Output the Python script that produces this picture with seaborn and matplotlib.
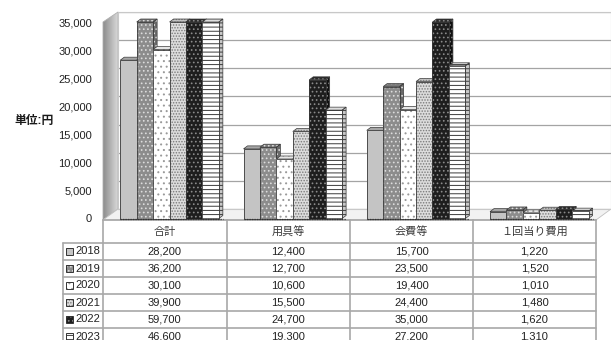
import numpy as np
import pandas as pd
import matplotlib
matplotlib.use("Agg")
import matplotlib.pyplot as plt
from matplotlib.patches import Polygon, Rectangle
from matplotlib.ticker import FuncFormatter
import seaborn as sns

# ---- data ----
categories = ["合計", "用具等", "会費等", "１回当り費用"]
years = ["2018", "2019", "2020", "2021", "2022", "2023"]
total = [28200, 36200, 30100, 39900, 59700, 46600]
equipment = [12400, 12700, 10600, 15500, 24700, 19300]
fees = [15700, 23500, 19400, 24400, 35000, 27200]
per_visit = [1220, 1520, 1010, 1480, 1620, 1310]
y_ticks = [0, 5000, 10000, 15000, 20000, 25000, 30000, 35000]
unit_label = "単位:円"

series = [total, equipment, fees, per_visit]
df = pd.DataFrame({
    "category": np.repeat(categories, len(years)),
    "year": years * len(categories),
    "value": np.concatenate(series),
})

# ---- per-year fill styles (face, side, top, hatch, hatch colour) ----
styles = {
    "2018": ("#c4c4c4", "#9c9c9c", "#a6a6a6", "", "#c4c4c4"),
    "2019": ("#8c8c8c", "#6a6a6a", "#7a7a7a", "....", "#dcdcdc"),
    "2020": ("#ffffff", "#d4d4d4", "#e6e6e6", "...", "#9a9a9a"),
    "2021": ("#dcdcdc", "#b4b4b4", "#c4c4c4", "......", "#7a7a7a"),
    "2022": ("#1e1e1e", "#101010", "#2a2a2a", "....", "#8a8a8a"),
    "2023": ("#ffffff", "#c8c8c8", "#dedede", "----", "#3a3a3a"),
}

sns.set_style("white")
plt.rcParams["font.family"] = ["Liberation Sans", "Noto Sans CJK JP"]
plt.rcParams["hatch.linewidth"] = 0.7

W, H = 611, 340
fig = plt.figure(figsize=(W / 100, H / 100), dpi=100)


def frac(x0, y0, x1, y1):
    """pixel box (top-left origin) -> figure fraction rect"""
    return [x0 / W, 1 - y1 / H, (x1 - x0) / W, (y1 - y0) / H]


# pixel-space canvas for walls, floor and the data table
canvas = fig.add_axes([0, 0, 1, 1], zorder=0)
canvas.set_xlim(0, W)
canvas.set_ylim(H, 0)
canvas.axis("off")

# back wall with gridlines
wall = fig.add_axes(frac(118, 12, 611, 209), zorder=1)
wall.set_ylim(0, y_ticks[-1])
wall.set_yticks(y_ticks)
wall.set_xticks([])
wall.tick_params(axis="y", length=0, labelleft=False)
wall.grid(axis="y", color="#a4a4a4", lw=0.9)
for s in wall.spines.values():
    s.set_color("#c8c8c8")
    s.set_linewidth(0.8)
wall.spines["top"].set_linestyle((0, (1, 1)))

# left side wall (gradient) and floor
side_poly = Polygon([(103, 22), (118, 12), (118, 209), (103, 220)], closed=True,
                    facecolor="none", edgecolor="#b0b0b0", lw=0.6)
canvas.add_patch(side_poly)
grad = np.linspace(0.55, 0.85, 64).reshape(1, -1)
im = canvas.imshow(grad, cmap="gray", vmin=0, vmax=1, extent=[103, 118, 220, 12],
                   aspect="auto", interpolation="bilinear")
im.set_clip_path(side_poly)
canvas.add_patch(Polygon([(103, 220), (118, 209), (611, 209), (596, 220)], closed=True,
                         facecolor="#f2f2f2", edgecolor="#c0c0c0", lw=0.6))

# main (front plane) axes with the bars
ax = fig.add_axes(frac(103, 22, 596, 218.5), zorder=2)
ax.patch.set_alpha(0)
sns.barplot(data=df, x="category", y="value", hue="year", order=categories,
            hue_order=years, palette=[styles[y][0] for y in years], saturation=1,
            width=0.8, errorbar=None, legend=False, ax=ax)
ax.set_xlim(-0.54, 3.46)
ax.set_ylim(0, y_ticks[-1])
ax.set_yticks(y_ticks)
ax.yaxis.set_major_formatter(FuncFormatter(lambda v, _: f"{v:,.0f}"))
ax.tick_params(axis="y", length=0, pad=8, labelsize=8, colors="#222222")
ax.set_xticks([])
ax.set_xlabel("")
ax.set_ylabel("")
for s in ax.spines.values():
    s.set_visible(False)

# 3D depth of each bar: offsets in data units for a few pixels
ux = 4.0 / 493.0
uy = y_ticks[-1] / 196.5
dx, dy = 4 * ux, 3 * uy
ymax = y_ticks[-1]

bars = []
for year, cont in zip(years, ax.containers):
    for p in cont.patches:
        bars.append((p.get_x(), year, p))
bars.sort(key=lambda t: t[0])

for i, (_, year, p) in enumerate(bars):
    face, side, top, hatch, hcol = styles[year]
    z = 3 + i * 0.01
    x0, w = p.get_x(), p.get_width()
    h = min(p.get_height(), ymax)
    p.set_facecolor(face)
    p.set_hatch(hatch)
    p.set_edgecolor(hcol)
    p.set_linewidth(0)
    p.set_zorder(z + 0.004)
    ax.add_patch(Rectangle((x0, 0), w, h, fill=False, edgecolor="#3a3a3a",
                           lw=0.6, zorder=z + 0.005, clip_on=False))
    side_pts = [(x0 + w, 0), (x0 + w + dx, dy), (x0 + w + dx, h + dy), (x0 + w, h)]
    top_pts = [(x0, h), (x0 + dx, h + dy), (x0 + w + dx, h + dy), (x0 + w, h)]
    for pts, col in ((side_pts, side), (top_pts, top)):
        ax.add_patch(Polygon(pts, closed=True, facecolor=col, hatch=hatch,
                             edgecolor=hcol, lw=0, zorder=z, clip_on=False))
        ax.add_patch(Polygon(pts, closed=True, fill=False, edgecolor="#3a3a3a",
                             lw=0.5, zorder=z + 0.001, clip_on=False))

# dotted footing line under each cluster of bars
for cont_group in range(len(categories)):
    group = [b[2] for b in bars if round(b[2].get_x() + b[2].get_width() / 2) == cont_group]
    left = min(p.get_x() for p in group)
    right = max(p.get_x() + p.get_width() for p in group) + dx
    ax.plot([left, right], [0, 0], color="#333333", lw=0.9, ls=(0, (1, 1)),
            zorder=10, clip_on=False)

# unit label
fig.text(34 / W, 1 - 121 / H, unit_label, ha="center", va="center",
         fontsize=8.5, fontweight="bold", color="#1a1a1a")

# ---- data table ----
col_x = [63, 103, 226.5, 350, 473, 596]
row_y = [220, 243, 260, 277, 294, 311, 328, 345]
grid_kw = dict(color="#a8a8a8", lw=1.2, zorder=1)
for x in col_x[1:]:
    canvas.plot([x, x], [row_y[0], H + 5], **grid_kw)
canvas.plot([col_x[0], col_x[0]], [row_y[1], H + 5], **grid_kw)
canvas.plot([col_x[1], col_x[-1]], [row_y[0], row_y[0]], **grid_kw)
for y in row_y[1:]:
    canvas.plot([col_x[0], col_x[-1]], [y, y], **grid_kw)

for c, name in enumerate(categories):
    cx = (col_x[c + 1] + col_x[c + 2]) / 2
    canvas.text(cx, (row_y[0] + row_y[1]) / 2 + 0.5, name, ha="center", va="center",
                fontsize=8, color="#3a3a3a")

for r, year in enumerate(years):
    cy = (row_y[r + 1] + row_y[r + 2]) / 2
    face, side, top, hatch, hcol = styles[year]
    canvas.add_patch(Rectangle((66, cy - 3.5), 7, 7, facecolor=face, hatch=hatch,
                               edgecolor=hcol, lw=0, zorder=2))
    canvas.add_patch(Rectangle((66, cy - 3.5), 7, 7, fill=False, edgecolor="#333333",
                               lw=0.7, zorder=3))
    canvas.text(75, cy, year, ha="left", va="center", fontsize=8, color="#222222")
    for c in range(len(categories)):
        cx = (col_x[c + 1] + col_x[c + 2]) / 2
        canvas.text(cx, cy, f"{series[c][r]:,}", ha="center", va="center",
                    fontsize=8, color="#222222")

fig.savefig("out.png", dpi=100)
